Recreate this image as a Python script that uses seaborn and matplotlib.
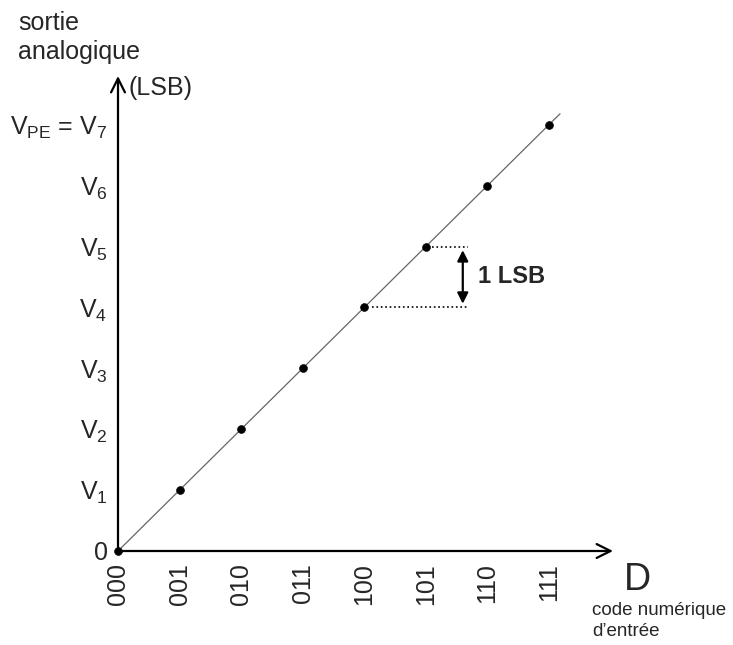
import matplotlib
matplotlib.use("Agg")
import matplotlib.pyplot as plt
import seaborn as sns
import pandas as pd

# codes numériques et niveaux de sortie
codes = ['000', '001', '010', '011', '100', '101', '110', '111']
levels = [0, 1, 2, 3, 4, 5, 6, 7]
ylabels = ['0', 'V$_1$', 'V$_2$', 'V$_3$', 'V$_4$', 'V$_5$', 'V$_6$', 'V$_{PE}$ = V$_7$']

sns.set_style('white')
plt.rcParams['font.family'] = ['Liberation Sans', 'DejaVu Sans']
plt.rcParams['mathtext.fontset'] = 'custom'
plt.rcParams['mathtext.rm'] = 'Liberation Sans'
plt.rcParams['mathtext.it'] = 'Liberation Sans'

W, H = 733, 645
fig = plt.figure(figsize=(W / 100, H / 100), dpi=100)
ax = fig.add_axes([118 / W, 94 / H, 495 / W, 475 / H])
ax.set_xlim(0, 8.04)
ax.set_ylim(0, 7.8)

df = pd.DataFrame({'x': range(len(codes)), 'y': levels})

# droite de transfert idéale
sns.lineplot(x=[0, 7.18], y=[0, 7.18], ax=ax, color='#666666', lw=0.9)
sns.scatterplot(data=df, x='x', y='y', ax=ax, color='black', s=32,
                edgecolor='black', zorder=5, clip_on=False)

# axes fléchés
for s in ax.spines.values():
    s.set_visible(False)
ax.annotate('', xy=(1, 0), xytext=(0, 0), xycoords='axes fraction',
            arrowprops=dict(arrowstyle='->', lw=1.6, color='black',
                            mutation_scale=25, shrinkA=0, shrinkB=0))
ax.annotate('', xy=(0, 1), xytext=(0, 0), xycoords='axes fraction',
            arrowprops=dict(arrowstyle='->', lw=1.6, color='black',
                            mutation_scale=25, shrinkA=0, shrinkB=0))

ax.set_xticks(range(len(codes)))
ax.set_xticklabels(codes, rotation=90, fontsize=18)
ax.set_yticks(levels)
ax.set_yticklabels(ylabels, fontsize=18)
ax.tick_params(axis='both', direction='inout', length=5, width=0.8,
               color='#555555', pad=5)
ax.tick_params(axis='x', pad=6)
ax.set_xlabel('')
ax.set_ylabel('')

# 1 LSB
ax.plot([5.1, 5.68], [5, 5], ls=':', color='black', lw=1.2)
ax.plot([4.12, 5.68], [4, 4], ls=':', color='black', lw=1.2)
ax.annotate('', xy=(5.6, 4.94), xytext=(5.6, 4.06),
            arrowprops=dict(arrowstyle='<|-|>', lw=1.6, color='black',
                            mutation_scale=16, shrinkA=0, shrinkB=0))
ax.text(5.85, 4.5, '1 LSB', fontsize=17, fontweight='bold', va='center')

# textes
fig.text(18 / W, 1 - 11 / H, 'sortie\nanalogique', fontsize=18,
         va='top', linespacing=1.25)
fig.text(128 / W, 1 - 88 / H, '(LSB)', fontsize=18, va='center')
fig.text(624 / W, 1 - 580 / H, 'D', fontsize=27, va='center')
fig.text(592 / W, 1 - 621 / H, 'code numérique\nd\u2019entrée', fontsize=13.5,
         va='center', linespacing=1.3)

fig.savefig('out.png', dpi=100)
